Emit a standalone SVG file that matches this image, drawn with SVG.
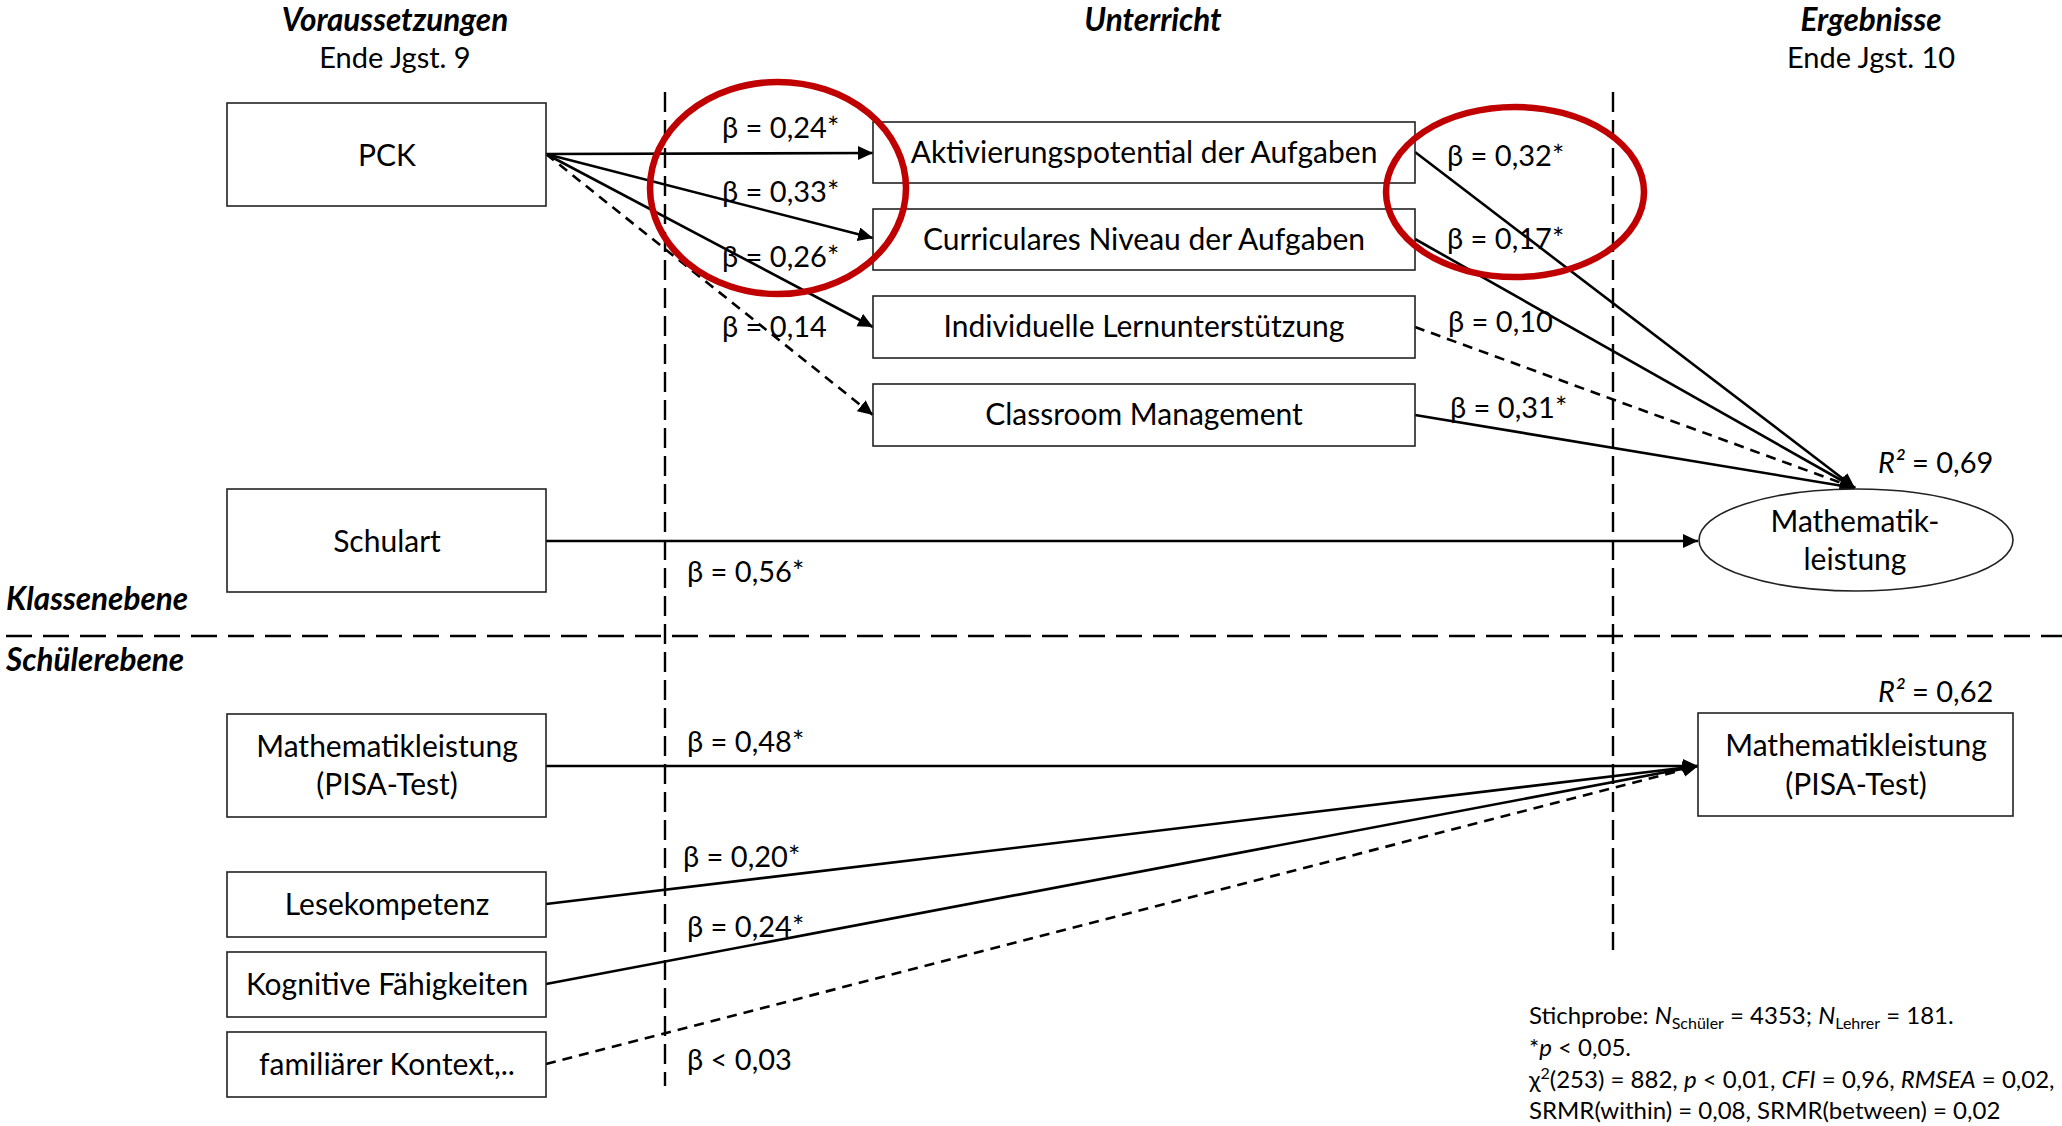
<svg xmlns="http://www.w3.org/2000/svg" width="2062" height="1126" viewBox="0 0 2062 1126">
<style>
text{font-family:Lato,"Open Sans","Liberation Sans",sans-serif;fill:#000}
.t{font-size:29px}
.b{font-size:30px}
.m{text-anchor:middle}
.h{font-size:31.5px;font-weight:bold;font-style:italic}
.fn{font-size:24px}
.box{fill:#fff;stroke:#222;stroke-width:1.6}
.c{stroke:#000;stroke-width:2.6;fill:none}
.d{stroke-dasharray:10 7}
.sep{stroke:#000;stroke-width:2.4;fill:none}
.red{fill:none;stroke:#C00000;stroke-width:6.5}
</style>
<defs>
<marker id="ah" markerUnits="userSpaceOnUse" markerWidth="16" markerHeight="15" refX="15" refY="7" orient="auto">
<path d="M0,0 L15,7 L0,14 z" fill="#000"/>
</marker>
</defs>
<rect width="2062" height="1126" fill="#fff"/>
<g id="headers">
<text class="h m" x="395" y="31">Voraussetzungen</text>
<text class="t m" x="395" y="68">Ende Jgst. 9</text>
<text class="h m" x="1153" y="31">Unterricht</text>
<text class="h m" x="1871" y="31">Ergebnisse</text>
<text class="t m" x="1871" y="68">Ende Jgst. 10</text>
<text class="h" x="6" y="610">Klassenebene</text>
<text class="h" x="6" y="671">Schülerebene</text>
</g>
<g id="separators">
<line class="sep" x1="665" y1="92" x2="665" y2="1086" stroke-dasharray="20 8"/>
<line class="sep" x1="1613" y1="92" x2="1613" y2="950" stroke-dasharray="20 8"/>
<line class="sep" x1="6" y1="636" x2="2062" y2="636" stroke-dasharray="26 11"/>
</g>
<g id="connectors">
<line class="c" x1="546" y1="154" x2="873" y2="153" marker-end="url(#ah)"/>
<line class="c" x1="546" y1="154" x2="873" y2="238" marker-end="url(#ah)"/>
<line class="c" x1="546" y1="154" x2="873" y2="327" marker-end="url(#ah)"/>
<line class="c d" x1="546" y1="154" x2="873" y2="415" marker-end="url(#ah)"/>
<line class="c" x1="1415" y1="152" x2="1855" y2="488" marker-end="url(#ah)"/>
<line class="c" x1="1415" y1="239" x2="1855" y2="488" marker-end="url(#ah)"/>
<line class="c d" x1="1415" y1="327" x2="1855" y2="488" marker-end="url(#ah)"/>
<line class="c" x1="1415" y1="415" x2="1855" y2="488" marker-end="url(#ah)"/>
<line class="c" x1="546" y1="541" x2="1698" y2="541" marker-end="url(#ah)"/>
<line class="c" x1="546" y1="766" x2="1698" y2="766" marker-end="url(#ah)"/>
<line class="c" x1="546" y1="904" x2="1698" y2="766" marker-end="url(#ah)"/>
<line class="c" x1="546" y1="984" x2="1698" y2="766" marker-end="url(#ah)"/>
<line class="c d" x1="546" y1="1064" x2="1698" y2="766" marker-end="url(#ah)"/>
</g>
<g id="n-pck"><rect class="box" x="227" y="103" width="319" height="103"/><text class="b m" x="387" y="166">PCK</text></g>
<g id="n-akt"><rect class="box" x="873" y="122" width="542" height="61"/><text class="b m" x="1144" y="163">Aktivierungspotential der Aufgaben</text></g>
<g id="n-cur"><rect class="box" x="873" y="209" width="542" height="61"/><text class="b m" x="1144" y="250">Curriculares Niveau der Aufgaben</text></g>
<g id="n-ind"><rect class="box" x="873" y="296" width="542" height="62"/><text class="b m" x="1144" y="337">Individuelle Lernunterstützung</text></g>
<g id="n-cm"><rect class="box" x="873" y="384" width="542" height="62"/><text class="b m" x="1144" y="425">Classroom Management</text></g>
<g id="n-schulart"><rect class="box" x="227" y="489" width="319" height="103"/><text class="b m" x="387" y="552">Schulart</text></g>
<g id="n-mathlat"><ellipse class="box" cx="1856" cy="540" rx="157" ry="51"/><text class="b m" x="1855" y="532">Mathematik-</text><text class="b m" x="1855" y="570">leistung</text></g>
<g id="n-math9"><rect class="box" x="227" y="714" width="319" height="103"/><text class="b m" x="387" y="757">Mathematikleistung</text><text class="b m" x="387" y="795">(PISA-Test)</text></g>
<g id="n-lese"><rect class="box" x="227" y="872" width="319" height="65"/><text class="b m" x="387" y="915">Lesekompetenz</text></g>
<g id="n-kog"><rect class="box" x="227" y="952" width="319" height="65"/><text class="b m" x="387" y="995">Kognitive Fähigkeiten</text></g>
<g id="n-fam"><rect class="box" x="227" y="1032" width="319" height="65"/><text class="b m" x="387" y="1075">familiärer Kontext,..</text></g>
<g id="n-math10"><rect class="box" x="1698" y="713" width="315" height="103"/><text class="b m" x="1856" y="756">Mathematikleistung</text><text class="b m" x="1856" y="795">(PISA-Test)</text></g>
<g id="labels">
<text class="t" x="722" y="138">β = 0,24*</text>
<text class="t" x="722" y="202">β = 0,33*</text>
<text class="t" x="722" y="267">β = 0,26*</text>
<text class="t" x="722" y="337">β = 0,14</text>
<text class="t" x="1447" y="166">β = 0,32*</text>
<text class="t" x="1447" y="249">β = 0,17*</text>
<text class="t" x="1448" y="332">β = 0,10</text>
<text class="t" x="1450" y="418">β = 0,31*</text>
<text class="t" x="687" y="582">β = 0,56*</text>
<text class="t" x="687" y="752">β = 0,48*</text>
<text class="t" x="683" y="867">β = 0,20*</text>
<text class="t" x="687" y="937">β = 0,24*</text>
<text class="t" x="687" y="1070">β &lt; 0,03</text>
<text class="t" x="1878" y="473"><tspan font-style="italic">R²</tspan> = 0,69</text>
<text class="t" x="1878" y="702"><tspan font-style="italic">R²</tspan> = 0,62</text>
</g>
<g id="highlights">
<ellipse class="red" cx="778" cy="188" rx="128" ry="106"/>
<ellipse class="red" cx="1515" cy="192" rx="129" ry="85"/>
</g>
<g id="footnote">
<text class="fn" x="1529" y="1024">Stichprobe: <tspan font-style="italic">N</tspan><tspan font-size="16" dy="5">Schüler</tspan><tspan dy="-5"> = 4353; </tspan><tspan font-style="italic">N</tspan><tspan font-size="16" dy="5">Lehrer</tspan><tspan dy="-5"> = 181.</tspan></text>
<text class="fn" x="1529" y="1056">*<tspan font-style="italic">p</tspan> &lt; 0,05.</text>
<text class="fn" x="1529" y="1088">χ<tspan font-size="16" dy="-9">2</tspan><tspan dy="9">(253) = 882, </tspan><tspan font-style="italic">p</tspan> &lt; 0,01, <tspan font-style="italic">CFI</tspan> = 0,96, <tspan font-style="italic">RMSEA</tspan> = 0,02,</text>
<text class="fn" x="1529" y="1119">SRMR(within) = 0,08, SRMR(between) = 0,02</text>
</g>
</svg>
